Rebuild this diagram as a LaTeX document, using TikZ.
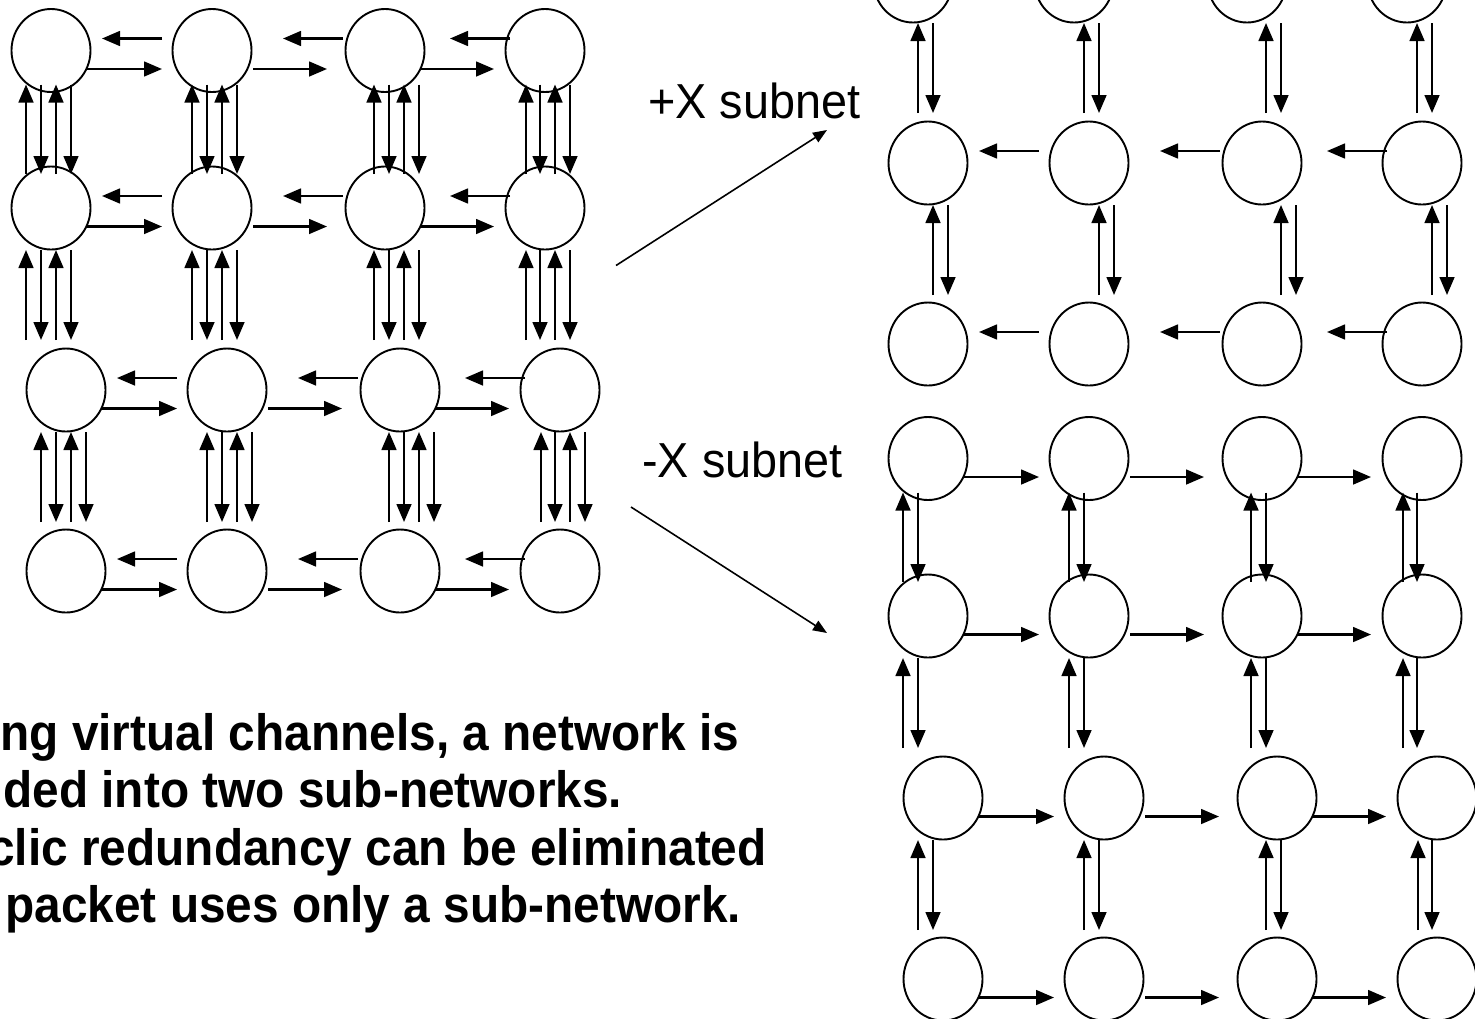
\documentclass[tikz,border=0pt]{standalone}
\usepackage{fontspec}
\setmainfont{Liberation Sans}
\usetikzlibrary{calc,arrows.meta,shapes.geometric}

\tikzset{
  router/.style={draw, ellipse, line width=0.95pt, minimum width=39.5pt,
    minimum height=41.5pt, inner sep=0pt, outer sep=0pt},
  link/.style={line width=1.1pt, -{Triangle[length=9pt,width=7.4pt]}},
  feed/.style={line width=0.8pt, -{Triangle[length=7pt,width=5.5pt]}},
  subnetlabel/.style={font=\fontsize{23.4pt}{28pt}\selectfont, anchor=base west,
    inner sep=0pt, yscale=1.05, transform shape},
  caption/.style={font=\bfseries\fontsize{23.9pt}{28.5pt}\selectfont,
    anchor=base west, inner sep=0pt, yscale=1.07, transform shape},
}

% Draws a 4-column mesh (or part of it).
% #1 name prefix, #2/#3 offset, #4/#5 first/last row of the full mesh,
% #6 westward links (1/0), #7 eastward links (1/0), #8 vertical lanes to draw
\newcommand\drawmesh[8]{%
  % routers
  \foreach \r/\yy/\ss in {1/50.5/0,2/208/0,3/390/15,4/571/15}{%
    \ifnum\r<#4\relax\else\ifnum\r>#5\relax\else
      \pgfmathtruncatemacro\rr{\r-#4+1}%
      \foreach \c/\xx in {1/51,2/212,3/385,4/545}{%
        \node[router] (#1-\rr-\c) at (\xx+\ss+#2,\yy+#3) {};
      }%
    \fi\fi
  }%
  % horizontal links
  \foreach \r in {#4,...,#5}{%
    \pgfmathtruncatemacro\rr{\r-#4+1}%
    \ifnum#6=1
      \foreach \c/\a/\b in {1/-50/51,2/-42/71,3/-35/65}{%
        \pgfmathtruncatemacro\cn{\c+1}%
        \draw[link] ($(#1-\rr-\cn)+(\a,-12)$) -- ($(#1-\rr-\c)+(\b,-12)$);
      }%
    \fi
    \ifnum#7=1
      \foreach \c/\a/\b in {1/36/-50,2/41/-58,3/36/-51}{%
        \pgfmathtruncatemacro\cn{\c+1}%
        \draw[link] ($(#1-\rr-\c)+(\a,18.5)$) -- ($(#1-\rr-\cn)+(\b,18.5)$);
      }%
    \fi
  }%
  % vertical links
  \foreach \g/\tp/\bt/\dsh in {1/34/-34/0,2/42/-50/15,3/42/-49/0}{%
    \pgfmathtruncatemacro\gok{and(\g>=#4,\g<#5)}%
    \ifnum\gok=1
      \pgfmathtruncatemacro\up{\g-#4+1}%
      \pgfmathtruncatemacro\dn{\g-#4+2}%
      \foreach \c/\oa/\ob/\oc/\od in {1/-25/-10/5/20,2/-20/-5/10/25,
                                      3/-11/4/19/34,4/-19/-5/10/25}{%
        \foreach \k in {#8}{%
          \ifcase\k\or\let\off\oa\or\let\off\ob\or\let\off\oc\or\let\off\od\fi
          \ifodd\k
            \draw[link] ($(#1-\dn-\c)+(\off-\dsh,\bt)$) -- ($(#1-\up-\c)+(\off,\tp)$);
          \else
            \draw[link] ($(#1-\up-\c)+(\off,\tp)$) -- ($(#1-\dn-\c)+(\off-\dsh,\bt)$);
          \fi
        }%
      }%
    \fi
  }%
}

\begin{document}
\begin{tikzpicture}[x=0.5pt,y=-0.5pt]
  \useasboundingbox (0,0) rectangle (1475,1018);
  \clip (0,0) rectangle (1475,1018);

  % full network
  \drawmesh{L}{0}{0}{1}{4}{1}{1}{1,2,3,4}
  % +X subnet
  \drawmesh{P}{862}{-227}{2}{4}{1}{0}{3,4}
  % -X subnet
  \drawmesh{M}{877}{408}{1}{4}{0}{1}{1,2}

  % subnet labels and splitting arrows
  \node[subnetlabel] (plab) at (648,118) {+X subnet};
  \node[subnetlabel] (mlab) at (642,477) {-X subnet};
  \coordinate (pfrom) at (616,265.5);
  \coordinate (pto) at (827,130);
  \coordinate (mfrom) at (631,507);
  \coordinate (mto) at (827,633);
  \draw[feed] (pfrom) -- (pto);
  \draw[feed] (mfrom) -- (mto);

  % explanation
  \node[caption] (capA) at (0,750) {ng virtual channels, a network is};
  \node[caption] (capB) at (3,807) {ded into two sub-networks.};
  \node[caption] (capC) at (-12,865) {clic redundancy can be eliminated};
  \node[caption] (capD) at (5,922) {packet uses only a sub-network.};
\end{tikzpicture}
\end{document}
